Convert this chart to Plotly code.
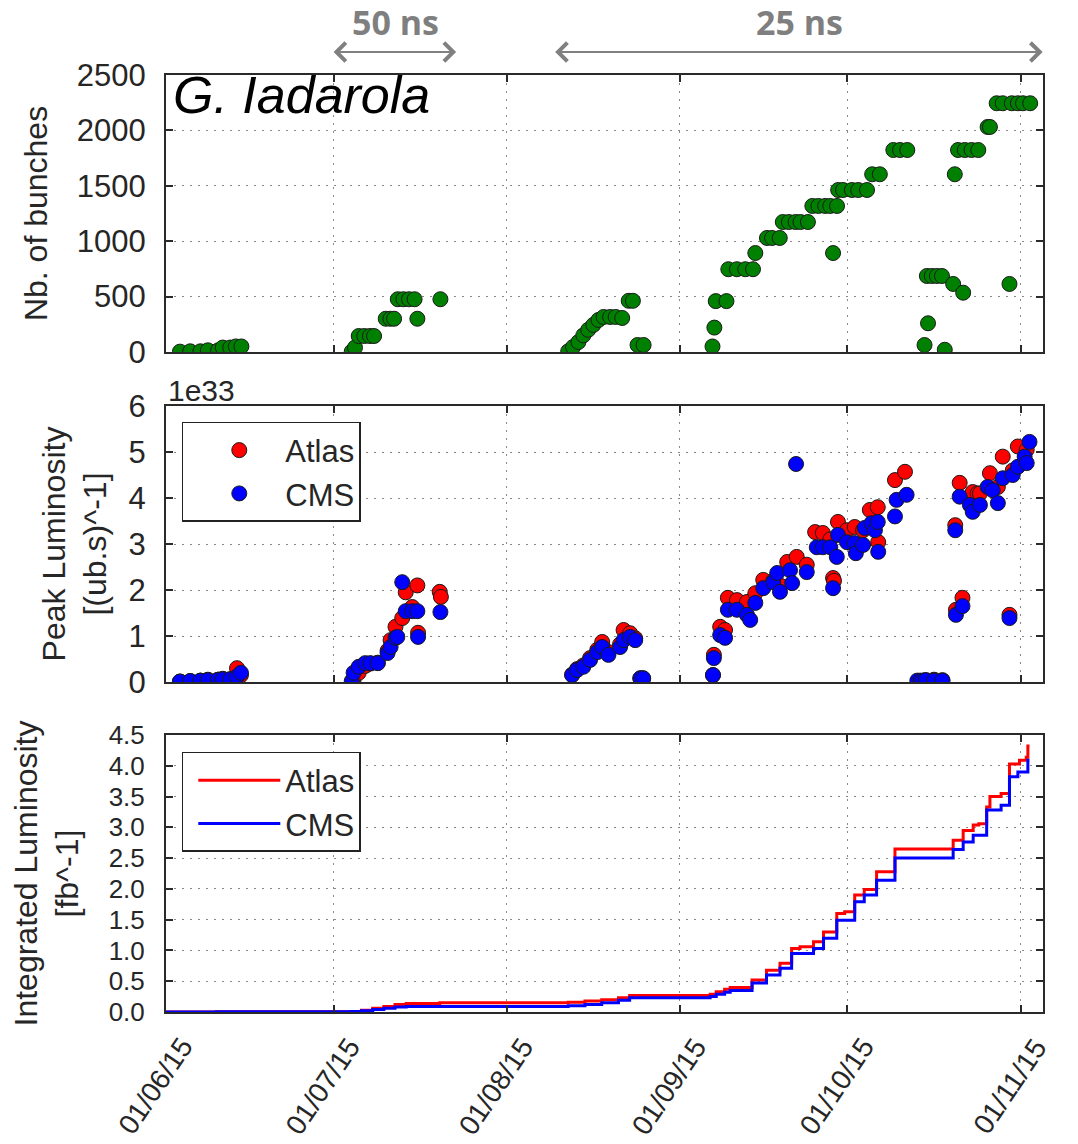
import pandas as pd
import plotly.graph_objects as go
from plotly.subplots import make_subplots

FONT = "Liberation Sans, Arial, Helvetica, sans-serif"

# ---------------- data ----------------
month_ticks = ["2015-06-01", "2015-07-01", "2015-08-01", "2015-09-01", "2015-10-01", "2015-11-01"]
month_labels = ["01/06/15", "01/07/15", "01/08/15", "01/09/15", "01/10/15", "01/11/15"]

spacing_labels = ["50 ns", "25 ns"]
spacing_starts = ["2015-07-01 00:00", "2015-08-09 16:00"]
spacing_ends = ["2015-07-23 05:00", "2015-11-05 05:00"]

bunch_dates = [
    "2015-06-03 12:00", "2015-06-05 08:00", "2015-06-07 04:00", "2015-06-08 12:00", "2015-06-10 08:00",
    "2015-06-11 04:00", "2015-06-12 12:00", "2015-06-13 12:00", "2015-06-14 12:00",
    "2015-07-04 06:00", "2015-07-04 20:00", "2015-07-05 12:00", "2015-07-06 12:00", "2015-07-07 12:00",
    "2015-07-08 06:00", "2015-07-10 08:00", "2015-07-11 04:00", "2015-07-11 20:00", "2015-07-12 12:00",
    "2015-07-13 12:00", "2015-07-14 12:00", "2015-07-15 12:00", "2015-07-16 00:00", "2015-07-20 03:00",
    "2015-08-12 00:00", "2015-08-12 21:00", "2015-08-13 20:00", "2015-08-14 17:00", "2015-08-15 14:00",
    "2015-08-16 12:00", "2015-08-17 10:00", "2015-08-18 08:00", "2015-08-19 12:00", "2015-08-20 12:00",
    "2015-08-21 16:00", "2015-08-22 20:00", "2015-08-23 14:00", "2015-08-24 10:00", "2015-08-25 12:00",
    "2015-09-06 20:00", "2015-09-07 04:00", "2015-09-07 10:00", "2015-09-09 08:00", "2015-09-09 16:00",
    "2015-09-11 05:00", "2015-09-12 17:00", "2015-09-14 02:00", "2015-09-14 12:00", "2015-09-16 14:00",
    "2015-09-17 12:00", "2015-09-18 21:00", "2015-09-19 10:00", "2015-09-20 12:00", "2015-09-21 17:00",
    "2015-09-22 14:00", "2015-09-23 22:00", "2015-09-24 17:00", "2015-09-25 19:00", "2015-09-27 00:00",
    "2015-09-27 22:00", "2015-09-28 10:00", "2015-09-29 03:00", "2015-09-29 08:00", "2015-09-30 05:00",
    "2015-10-01 19:00", "2015-10-02 22:00", "2015-10-04 12:00", "2015-10-05 10:00", "2015-10-06 19:00",
    "2015-10-09 05:00", "2015-10-10 10:00", "2015-10-11 17:00",
    "2015-10-14 19:00", "2015-10-15 10:00", "2015-10-15 05:00", "2015-10-16 02:00", "2015-10-17 00:00",
    "2015-10-17 22:00", "2015-10-18 10:00", "2015-10-19 22:00", "2015-10-20 05:00", "2015-10-20 19:00",
    "2015-10-21 17:00", "2015-10-22 00:00", "2015-10-23 05:00", "2015-10-24 10:00", "2015-10-26 02:00",
    "2015-10-26 12:00", "2015-10-27 17:00", "2015-10-28 19:00", "2015-10-30 00:00", "2015-10-30 10:00",
    "2015-10-31 12:00", "2015-11-01 10:00", "2015-11-02 17:00",
]
bunch_counts = [
    3, 6, 6, 15, 15,
    40, 40, 50, 50,
    3, 40, 144, 144, 144,
    144, 300, 300, 300, 476,
    476, 476, 476, 300, 476,
    6, 45, 90, 150, 200,
    244, 289, 316, 316, 316,
    307, 462, 462, 63, 63,
    50, 220, 459, 459, 747,
    747, 747, 747, 893, 1029,
    1029, 1029, 1173, 1173, 1173,
    1173, 1173, 1318, 1318, 1318,
    1318, 893, 1318, 1462, 1462,
    1462, 1462, 1462, 1604, 1604,
    1823, 1823, 1823,
    63, 259, 686, 686, 686,
    686, 20, 614, 1604, 1823,
    535, 1823, 1823, 1823, 2031,
    2031, 2245, 2245, 614, 2245,
    2245, 2245, 2245,
]

# Peak luminosity, in units of 1e33 (ub.s)^-1
atlas_peak_dates = [
    "2015-06-03 12:00", "2015-06-05 08:00", "2015-06-07 04:00", "2015-06-08 12:00", "2015-06-10 08:00",
    "2015-06-11 04:00", "2015-06-12 12:00", "2015-06-13 17:00", "2015-06-14 10:00",
    "2015-07-04 14:00", "2015-07-05 12:00", "2015-07-06 16:00", "2015-07-07 14:00", "2015-07-08 22:00",
    "2015-07-10 16:00", "2015-07-11 05:00", "2015-07-12 02:00", "2015-07-13 07:00", "2015-07-13 22:00",
    "2015-07-15 02:00", "2015-07-16 00:00", "2015-07-16 03:00", "2015-07-20 00:00", "2015-07-20 05:00",
    "2015-08-12 17:00", "2015-08-13 14:00", "2015-08-14 17:00", "2015-08-15 22:00", "2015-08-17 05:00",
    "2015-08-18 02:00", "2015-08-19 05:00", "2015-08-21 07:00", "2015-08-21 22:00", "2015-08-23 02:00",
    "2015-08-24 00:00", "2015-08-24 22:00", "2015-08-25 10:00",
    "2015-09-06 22:00", "2015-09-07 02:00", "2015-09-08 05:00", "2015-09-09 02:00", "2015-09-09 14:00",
    "2015-09-11 05:00", "2015-09-13 00:00", "2015-09-14 12:00", "2015-09-15 22:00", "2015-09-17 17:00",
    "2015-09-18 22:00", "2015-09-20 05:00", "2015-09-21 22:00", "2015-09-23 17:00", "2015-09-25 05:00",
    "2015-09-26 14:00", "2015-09-27 22:00", "2015-09-28 10:00", "2015-09-28 14:00", "2015-09-29 07:00",
    "2015-09-30 22:00", "2015-10-02 07:00", "2015-10-03 19:00", "2015-10-05 00:00", "2015-10-06 10:00",
    "2015-10-06 12:00", "2015-10-09 12:00", "2015-10-11 07:00", "2015-10-14 00:00", "2015-10-15 00:00",
    "2015-10-16 12:00", "2015-10-18 00:00", "2015-10-20 07:00", "2015-10-20 10:00", "2015-10-21 02:00",
    "2015-10-21 14:00", "2015-10-22 22:00", "2015-10-23 10:00", "2015-10-24 07:00", "2015-10-24 17:00",
    "2015-10-26 12:00", "2015-10-27 22:00", "2015-10-28 19:00", "2015-10-30 00:00", "2015-10-30 14:00",
    "2015-10-31 12:00", "2015-11-02 02:00",
]
atlas_peak = [
    0.01, 0.02, 0.03, 0.05, 0.05,
    0.07, 0.06, 0.30, 0.15,
    0.05, 0.20, 0.35, 0.40, 0.42,
    0.68, 0.91, 1.20, 1.39, 1.95,
    1.63, 2.10, 1.07, 1.96, 1.85,
    0.16, 0.28, 0.36, 0.52, 0.70,
    0.87, 0.65, 0.82, 1.13, 1.06,
    0.95, 0.08, 0.08,
    0.15, 0.59, 1.20, 1.13, 1.83,
    1.78, 1.74, 1.93, 2.22, 2.20,
    2.10, 2.61, 2.72, 2.55, 3.26,
    3.24, 3.10, 2.26, 2.20, 3.48,
    3.30, 3.37, 3.30, 3.74, 3.80,
    3.04, 4.39, 4.57, 0.03, 0.04,
    0.05, 0.04, 3.41, 1.57, 4.33,
    1.83, 4.00, 4.13, 4.10, 4.10,
    4.54, 4.24, 4.90, 1.46, 4.60,
    5.12, 5.05,
]

cms_peak_dates = [
    "2015-06-03 12:00", "2015-06-05 08:00", "2015-06-07 04:00", "2015-06-08 12:00", "2015-06-10 08:00",
    "2015-06-11 04:00", "2015-06-12 12:00", "2015-06-13 17:00", "2015-06-14 10:00",
    "2015-07-04 06:00", "2015-07-04 14:00", "2015-07-05 12:00", "2015-07-06 16:00", "2015-07-07 14:00",
    "2015-07-08 22:00", "2015-07-10 16:00", "2015-07-11 05:00", "2015-07-12 02:00", "2015-07-12 10:00",
    "2015-07-13 07:00", "2015-07-13 22:00", "2015-07-15 02:00", "2015-07-16 00:00", "2015-07-16 03:00",
    "2015-07-20 03:00",
    "2015-08-12 17:00", "2015-08-13 14:00", "2015-08-14 17:00", "2015-08-15 22:00", "2015-08-17 05:00",
    "2015-08-18 02:00", "2015-08-19 05:00", "2015-08-21 07:00", "2015-08-21 22:00", "2015-08-23 02:00",
    "2015-08-24 00:00", "2015-08-24 22:00", "2015-08-25 10:00",
    "2015-09-06 22:00", "2015-09-07 02:00", "2015-09-08 05:00", "2015-09-09 02:00", "2015-09-09 14:00",
    "2015-09-11 05:00", "2015-09-13 00:00", "2015-09-13 14:00", "2015-09-14 12:00", "2015-09-15 22:00",
    "2015-09-17 17:00", "2015-09-18 10:00", "2015-09-18 22:00", "2015-09-20 17:00", "2015-09-21 02:00",
    "2015-09-21 19:00", "2015-09-23 17:00", "2015-09-25 12:00", "2015-09-26 14:00", "2015-09-27 22:00",
    "2015-09-28 10:00", "2015-09-29 02:00", "2015-09-29 07:00", "2015-09-30 22:00", "2015-10-02 07:00",
    "2015-10-02 12:00", "2015-10-03 19:00", "2015-10-04 02:00", "2015-10-05 07:00", "2015-10-05 22:00",
    "2015-10-06 10:00", "2015-10-06 12:00", "2015-10-09 12:00", "2015-10-09 19:00", "2015-10-11 14:00",
    "2015-10-13 12:00", "2015-10-14 00:00", "2015-10-14 12:00", "2015-10-15 00:00", "2015-10-16 12:00",
    "2015-10-18 00:00", "2015-10-20 07:00", "2015-10-20 10:00", "2015-10-21 02:00", "2015-10-21 14:00",
    "2015-10-22 22:00", "2015-10-23 10:00", "2015-10-24 17:00", "2015-10-26 02:00", "2015-10-27 00:00",
    "2015-10-27 22:00", "2015-10-28 19:00", "2015-10-30 00:00", "2015-10-30 14:00", "2015-10-31 12:00",
    "2015-11-01 17:00", "2015-11-02 02:00", "2015-11-02 14:00",
]
cms_peak = [
    0.01, 0.02, 0.03, 0.04, 0.05,
    0.06, 0.06, 0.12, 0.20,
    0.02, 0.20, 0.33, 0.41, 0.41,
    0.41, 0.63, 0.76, 0.96, 0.98,
    2.17, 1.54, 1.54, 1.54, 0.98,
    1.52,
    0.15, 0.26, 0.33, 0.48, 0.65,
    0.76, 0.59, 0.76, 0.91, 0.98,
    0.91, 0.08, 0.08,
    0.15, 0.52, 1.02, 0.96, 1.57,
    1.57, 1.46, 1.35, 1.72, 2.04,
    2.17, 2.37, 1.96, 2.43, 2.15,
    4.74, 2.39, 2.93, 2.93, 2.93,
    2.04, 2.72, 3.20, 3.04, 3.02,
    2.80, 2.98, 3.35, 3.45, 3.30,
    3.48, 2.83, 3.60, 3.96, 4.07,
    0.03, 0.02, 0.03, 0.04, 0.03,
    0.03, 3.30, 1.46, 4.03, 1.65,
    3.85, 3.70, 3.85, 4.24, 4.17,
    3.89, 4.43, 1.39, 4.50, 4.68,
    4.90, 4.76, 5.22,
]

# Integrated luminosity [fb^-1] (cumulative, stepwise)
atlas_int_dates = [
    "2015-06-01", "2015-06-10", "2015-07-04", "2015-07-06", "2015-07-08", "2015-07-10",
    "2015-07-12", "2015-07-14", "2015-07-20", "2015-08-12", "2015-08-15", "2015-08-18",
    "2015-08-21", "2015-08-23", "2015-09-06 10:00", "2015-09-07 12:00", "2015-09-09", "2015-09-10",
    "2015-09-13 22:00", "2015-09-16 12:00", "2015-09-18 22:00", "2015-09-21", "2015-09-22 12:00",
    "2015-09-24 22:00", "2015-09-26 17:00", "2015-09-29 02:00", "2015-09-30 12:00", "2015-10-02 07:00",
    "2015-10-04", "2015-10-06 05:00", "2015-10-09 12:00", "2015-10-19 22:00", "2015-10-21 17:00",
    "2015-10-23 12:00", "2015-10-24 12:00", "2015-10-25 22:00", "2015-10-26 12:00", "2015-10-28 12:00",
    "2015-10-30", "2015-10-31 19:00", "2015-11-02", "2015-11-02 07:00", "2015-11-02 14:00",
]
atlas_int = [
    0.0, 0.005, 0.01, 0.03, 0.06, 0.09,
    0.12, 0.14, 0.15, 0.16, 0.18, 0.20,
    0.23, 0.27, 0.29, 0.33, 0.37, 0.40,
    0.52, 0.68, 0.79, 1.03, 1.06,
    1.14, 1.30, 1.60, 1.63, 1.90,
    1.99, 2.28, 2.65, 2.79, 2.95,
    3.04, 3.06, 3.33, 3.50, 3.55,
    4.03, 4.09, 4.14, 4.32, 4.32,
]
cms_int_dates = [
    "2015-06-01", "2015-06-10", "2015-07-04", "2015-07-06", "2015-07-08", "2015-07-10",
    "2015-07-12", "2015-07-14", "2015-08-12", "2015-08-15", "2015-08-18", "2015-08-21",
    "2015-08-23", "2015-09-06 10:00", "2015-09-07 12:00", "2015-09-09", "2015-09-10", "2015-09-13 22:00",
    "2015-09-16 12:00", "2015-09-18 22:00", "2015-09-21", "2015-09-24 22:00", "2015-09-26 17:00",
    "2015-09-29 02:00", "2015-10-02 07:00", "2015-10-04", "2015-10-06 05:00", "2015-10-09 12:00",
    "2015-10-19 22:00", "2015-10-21 17:00", "2015-10-23 12:00", "2015-10-25 22:00", "2015-10-28 12:00",
    "2015-10-30", "2015-10-31 12:00", "2015-11-02 07:00", "2015-11-02 14:00",
]
cms_int = [
    0.0, 0.004, 0.008, 0.02, 0.04, 0.06,
    0.08, 0.09, 0.10, 0.12, 0.15, 0.19,
    0.23, 0.25, 0.29, 0.32, 0.35, 0.47,
    0.60, 0.71, 0.95, 1.03, 1.20,
    1.49, 1.79, 1.90, 2.14, 2.50,
    2.64, 2.76, 2.87, 3.28, 3.36,
    3.82, 3.90, 4.09, 4.09,
]

# ---------------- figure ----------------
fig = make_subplots(rows=3, cols=1, shared_xaxes=True)

edge = dict(color="#1a1a1a", width=1)
fig.add_trace(go.Scatter(x=bunch_dates, y=bunch_counts, mode="markers", showlegend=False,
                         marker=dict(size=15, color="#008000", line=edge)), row=1, col=1)
fig.add_trace(go.Scatter(x=atlas_peak_dates, y=atlas_peak, mode="markers", name="Atlas", legend="legend",
                         marker=dict(size=15, color="#ff0000", line=edge)), row=2, col=1)
fig.add_trace(go.Scatter(x=cms_peak_dates, y=cms_peak, mode="markers", name="CMS", legend="legend",
                         marker=dict(size=15, color="#0000ff", line=edge)), row=2, col=1)
fig.add_trace(go.Scatter(x=atlas_int_dates, y=atlas_int, mode="lines", name="Atlas", legend="legend2",
                         line=dict(color="#ff0000", width=3, shape="hv")), row=3, col=1)
fig.add_trace(go.Scatter(x=cms_int_dates, y=cms_int, mode="lines", name="CMS", legend="legend2",
                         line=dict(color="#0000ff", width=3, shape="hv")), row=3, col=1)

axis_common = dict(showline=True, linecolor="#2a2a2a", linewidth=2, mirror="ticks",
                   ticks="inside", ticklen=7, tickwidth=1.5, tickcolor="#2a2a2a",
                   showgrid=True, gridcolor="#8a8a8a", gridwidth=1, griddash="2px,6px",
                   zeroline=False)
xr = ["2015-06-01", "2015-11-05"]
for i in (1, 2, 3):
    fig.update_xaxes(type="date", range=xr, tickvals=month_ticks, showticklabels=False,
                     **axis_common, row=i, col=1)

tf = dict(size=31, family=FONT, color="#262626")
tf_small = dict(size=26, family=FONT, color="#262626")
ttf = dict(size=32, family=FONT, color="#262626")
fig.update_yaxes(range=[0, 2500], dtick=500, tickfont=tf, ticklabelstandoff=12,
                 title=dict(text="Nb. of bunches", font=ttf, standoff=20), **axis_common, row=1, col=1)
fig.update_yaxes(range=[0, 6], dtick=1, tickfont=tf, ticklabelstandoff=12,
                 title=dict(text="Peak Luminosity<br>[(ub.s)^-1]", font=ttf, standoff=12),
                 **axis_common, row=2, col=1)
fig.update_yaxes(range=[0, 4.5], dtick=0.5, tickformat=".1f", tickfont=tf_small, ticklabelstandoff=14,
                 title=dict(text="Integrated Luminosity<br>[fb^-1]", font=ttf, standoff=20),
                 **axis_common, row=3, col=1)

fig.update_layout(
    yaxis=dict(domain=[0.7044, 1.0]),
    yaxis2=dict(domain=[0.3522, 0.6467]),
    yaxis3=dict(domain=[0.0, 0.2956]),
)

legend_style = dict(xanchor="left", yanchor="top", bgcolor="white", bordercolor="#222222",
                    borderwidth=1.5, font=dict(size=31, family=FONT, color="#262626"),
                    itemwidth=82, indentation=10)
fig.update_layout(
    width=1078, height=1144,
    margin=dict(l=166, r=35, t=75, b=132),
    paper_bgcolor="white", plot_bgcolor="white",
    font=dict(family=FONT, color="#262626"),
    legend=dict(x=0.018, y=0.6297, **legend_style),
    legend2=dict(x=0.018, y=0.2775, **legend_style),
)

# rotated date labels under the bottom panel
for d, lab in zip(month_ticks, month_labels):
    fig.add_annotation(x=d, xref="x3", y=-0.079, yref="paper", text=lab, showarrow=False,
                       textangle=-56, xanchor="center", yanchor="middle", xshift=-11,
                       font=dict(size=28, family=FONT, color="#262626"))

# offset text for the peak luminosity axis
fig.add_annotation(x=0.0, xref="paper", y=0.644, yref="paper", text="1e33", showarrow=False,
                   xanchor="left", yanchor="bottom", font=dict(size=30, family=FONT, color="#262626"))

# author tag
fig.add_annotation(x=0.006, xref="paper", y=1.0117, yref="paper", text="<i>G. Iadarola</i>",
                   showarrow=False, xanchor="left", yanchor="top",
                   font=dict(size=52, family=FONT, color="black"))

# bunch spacing periods (double arrows + labels)
for lab, s, e in zip(spacing_labels, spacing_starts, spacing_ends):
    fig.add_annotation(x=s, xref="x", ax=e, axref="x", y=1.0245, yref="paper", ay=0, ayref="pixel",
                       text="", showarrow=True, arrowhead=4, arrowside="end+start", arrowsize=1.8,
                       arrowwidth=2, arrowcolor="#808080", standoff=0, startstandoff=0)
    mid = pd.Timestamp(s) + (pd.Timestamp(e) - pd.Timestamp(s)) / 2
    fig.add_annotation(x=mid.strftime("%Y-%m-%d %H:%M"), xref="x", y=1.0566, yref="paper",
                       text="<b>" + lab + "</b>", showarrow=False, xanchor="center", yanchor="middle",
                       font=dict(size=34, family="Open Sans", color="#7f7f7f"))

fig.write_html("out.html")
